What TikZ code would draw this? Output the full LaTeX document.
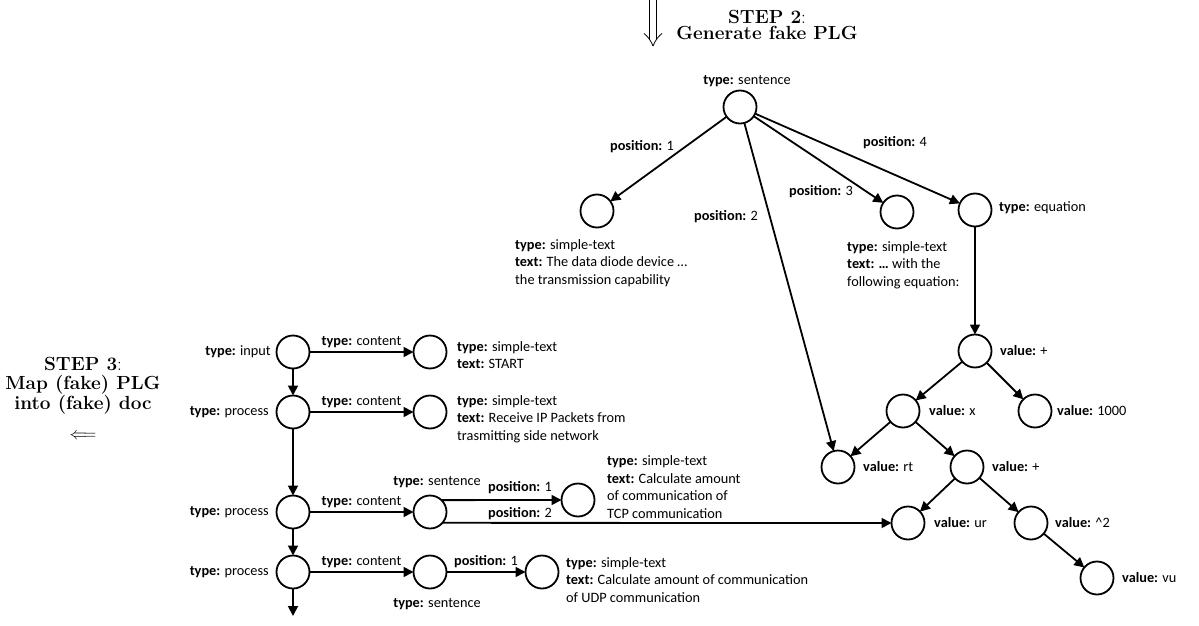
\documentclass[tikz,border=0pt]{standalone}
\usepackage{fontspec}
\newfontfamily\lblfont{Carlito}
\usetikzlibrary{arrows.meta}
\newcommand{\kv}[2]{\textbf{#1:} #2}
\begin{document}
\begin{tikzpicture}[x=1pt,y=-1pt,
  vtx/.style={circle, draw, line width=1.8pt, minimum size=33pt, inner sep=0pt, outer sep=0pt},
  edge/.style={line width=1.8pt, -{Triangle[length=10pt,width=10pt]}},
  lbl/.style={font=\lblfont\fontsize{14.3}{17.5}\selectfont, inner sep=0pt, align=left},
  steplbl/.style={font=\fontsize{19}{16.5}\selectfont, inner sep=0pt, align=center},
  thinline/.style={line width=0.8pt}]
\useasboundingbox (0,0) rectangle (1199,626);

% ---------- step headers ----------
% long double arrow pointing down to the fake PLG
\coordinate (dlt) at (649.5,-2);
\coordinate (dlb) at (649.5,40);
\coordinate (drt) at (656.5,-2);
\coordinate (drb) at (656.5,40);
\coordinate (dtip) at (653,46);
\draw[thinline] (dlt) -- (dlb);
\draw[thinline] (drt) -- (drb);
\draw[thinline] (dtip) .. controls (651,41) and (648,36.5) .. (644,33.5);
\draw[thinline] (dtip) .. controls (655,41) and (658,36.5) .. (662,33.5);
\node[steplbl, anchor=north] (step2) at (767,10) {\textbf{STEP 2}:\\\textbf{Generate fake PLG}};
\node[steplbl, anchor=north, font=\fontsize{19}{19.5}\selectfont] (step3) at (83,357)
  {\textbf{STEP 3}:\\\textbf{Map (fake) PLG}\\\textbf{into (fake) doc}};
\node[steplbl] (back) at (83,436) {$\Longleftarrow$};

% ---------- sentence tree ----------
\node[vtx] (r) at (740,107) {};
\node[vtx] (a) at (597,211) {};
\node[vtx] (b) at (897,212) {};
\node[vtx] (e) at (975,210) {};
\node[vtx] (v1) at (975,351) {};
\node[vtx] (vx) at (903,411) {};
\node[vtx] (vk) at (1035,411) {};
\node[vtx] (rt) at (838,467) {};
\node[vtx] (v2) at (967,467) {};
\node[vtx] (ur) at (908,523) {};
\node[vtx] (sq) at (1031,523) {};
\node[vtx] (vu) at (1097,578) {};

\draw[edge] (r) -- (a);
\draw[edge] (r) -- (rt);
\draw[edge] (r) -- (b);
\draw[edge] (r) -- (e);
\draw[edge] (e) -- (v1);
\draw[edge] (v1) -- (vx);
\draw[edge] (v1) -- (vk);
\draw[edge] (vx) -- (rt);
\draw[edge] (vx) -- (v2);
\draw[edge] (v2) -- (ur);
\draw[edge] (v2) -- (sq);
\draw[edge] (sq) -- (vu);

\node[lbl] (lr) at (747,81) {\kv{type}{sentence}};
\node[lbl] (lp1) at (642,147) {\kv{position}{1}};
\node[lbl] (lp2) at (726,217) {\kv{position}{2}};
\node[lbl] (lp3) at (821,192) {\kv{position}{3}};
\node[lbl] (lp4) at (895,143) {\kv{position}{4}};
\node[lbl, anchor=west] (la) at (515,263)
  {\kv{type}{simple-text}\\\kv{text}{The data diode device …}\\the transmission capability};
\node[lbl, anchor=west] (lb) at (847,265)
  {\kv{type}{simple-text}\\\textbf{text: …} with the\\following equation:};
\node[lbl, anchor=west] (le) at (999,208) {\kv{type}{equation}};
\node[lbl, anchor=west] (lv1) at (1000,351) {\kv{value}{+}};
\node[lbl, anchor=west] (lvx) at (929,411) {\kv{value}{x}};
\node[lbl, anchor=west] (lvk) at (1057,411) {\kv{value}{1000}};
\node[lbl, anchor=west] (lrt) at (863,467) {\kv{value}{rt}};
\node[lbl, anchor=west] (lv2) at (992,467) {\kv{value}{+}};
\node[lbl, anchor=west] (lur) at (934,523) {\kv{value}{ur}};
\node[lbl, anchor=west] (lsq) at (1055,523) {\kv{value}{\textasciicircum2}};
\node[lbl, anchor=west] (lvu) at (1122,578) {\kv{value}{vu}};

% ---------- document flow ----------
\node[vtx] (a1) at (293,352) {};
\node[vtx] (p1) at (293,412) {};
\node[vtx] (p2) at (293,512) {};
\node[vtx] (p3) at (293,572) {};
\coordinate (pend) at (293,616);
\node[vtx] (c1) at (430,352) {};
\node[vtx] (c2) at (430,412) {};
\node[vtx] (s1) at (430,512) {};
\node[vtx] (s2) at (430,572) {};
\node[vtx] (t1) at (578,500) {};
\node[vtx] (u1) at (542,572) {};

\draw[edge] (a1) -- (p1);
\draw[edge] (p1) -- (p2);
\draw[edge] (p2) -- (p3);
\draw[edge] (p3) -- (pend);
\draw[edge] (a1) -- node[lbl, above=3pt] (lc1) {\kv{type}{content}} (c1);
\draw[edge] (p1) -- node[lbl, above=3pt] (lc2) {\kv{type}{content}} (c2);
\draw[edge] (p2) -- node[lbl, above=3pt] (lc3) {\kv{type}{content}} (s1);
\draw[edge] (p3) -- node[lbl, above=3pt] (lc4) {\kv{type}{content}} (s2);
\draw[edge] (s1.46.66) -- (t1.west);
\draw[edge] (s1.-41.8) -- (ur.west);
\draw[edge] (s2) -- node[lbl, above=3pt] (lq1) {\kv{position}{1}} (u1);

\node[lbl, anchor=east] (la1) at (271,352) {\kv{type}{input}};
\node[lbl, anchor=east] (lpa) at (269,412) {\kv{type}{process}};
\node[lbl, anchor=east] (lpb) at (269,512) {\kv{type}{process}};
\node[lbl, anchor=east] (lpc) at (269,572) {\kv{type}{process}};
\node[lbl] (ls1) at (437,482) {\kv{type}{sentence}};
\node[lbl] (ls2) at (437,604) {\kv{type}{sentence}};
\node[lbl] (lt1p) at (520,488) {\kv{position}{1}};
\node[lbl] (lt2p) at (520,514) {\kv{position}{2}};
\node[lbl, anchor=west] (lc1t) at (457,355)
  {\kv{type}{simple-text}\\\kv{text}{START}};
\node[lbl, anchor=west] (lc2t) at (457,419)
  {\kv{type}{simple-text}\\\kv{text}{Receive IP Packets from}\\trasmitting side network};
\node[lbl, anchor=west] (lt1t) at (607,487)
  {\kv{type}{simple-text}\\\kv{text}{Calculate amount}\\of communication of\\TCP communication};
\node[lbl, anchor=west] (lu1t) at (566,580)
  {\kv{type}{simple-text}\\\kv{text}{Calculate amount of communication}\\of UDP communication};
\end{tikzpicture}
\end{document}
